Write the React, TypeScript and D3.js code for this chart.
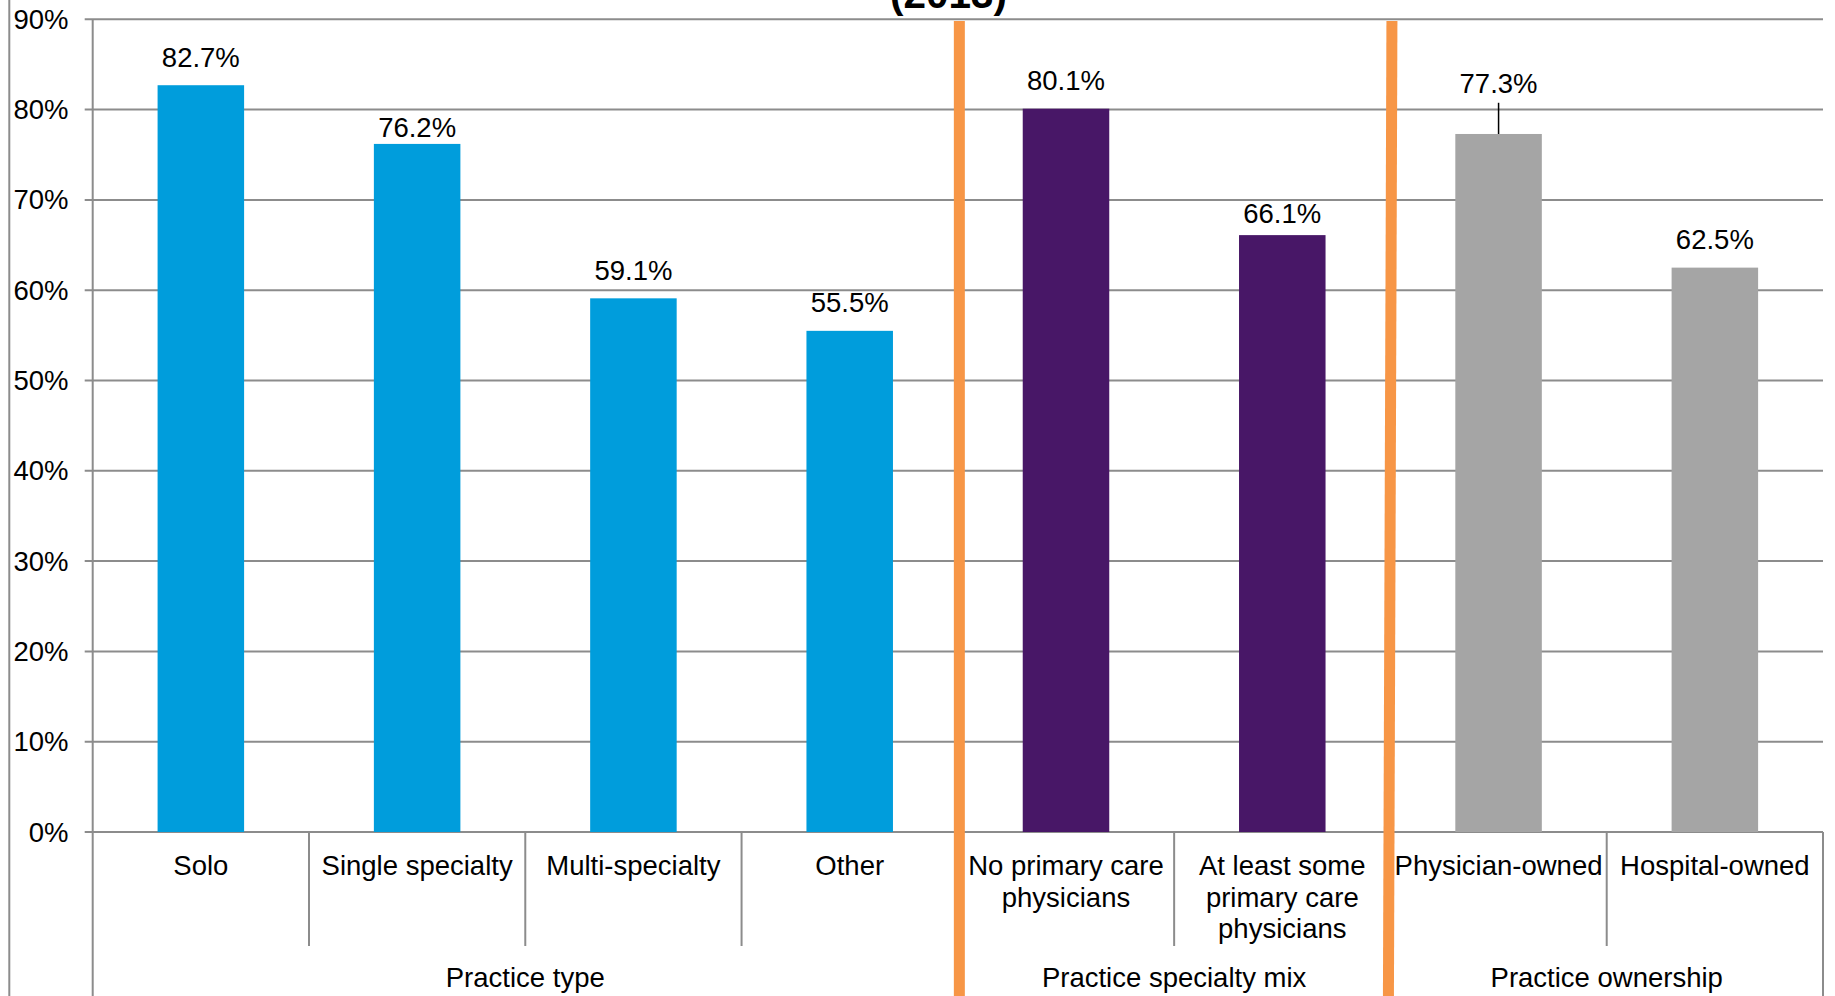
import React from "react";
import * as d3 from "d3";

// Share of practices (%) by practice characteristic
const categories: string[][] = [
  ["Solo"],
  ["Single specialty"],
  ["Multi-specialty"],
  ["Other"],
  ["No primary care", "physicians"],
  ["At least some", "primary care", "physicians"],
  ["Physician-owned"],
  ["Hospital-owned"],
];
const values: number[] = [82.7, 76.2, 59.1, 55.5, 80.1, 66.1, 77.3, 62.5];
const groupOf: number[] = [0, 0, 0, 0, 1, 1, 2, 2];
const groups: string[] = ["Practice type", "Practice specialty mix", "Practice ownership"];
const groupColors: string[] = ["#009DDC", "#481767", "#A5A5A5"];
const yTicks: number[] = [0, 10, 20, 30, 40, 50, 60, 70, 80, 90];
const titleText = "(2013)";

const W = 1835;
const H = 996;
const FONT = "'Liberation Sans', Arial, Helvetica, sans-serif";
const FS = 27.5;
const GRID = "#8C8C8C";
const ORANGE = "#F79646";

export default function App() {
  const left = 92.7;
  const right = 1823;
  const y0 = 832;
  const yTop = 19.3;

  const keys = categories.map((c) => c.join(" "));
  const x = d3.scaleBand<string>().domain(keys).range([left, right]).paddingInner(0.6).paddingOuter(0.3);
  const y = d3.scaleLinear().domain([0, 90]).range([y0, yTop]);
  const step = x.step();
  const boundary = (i: number) => left + i * step;

  // group spans in category indices
  const spans = groups.map((g, gi) => {
    const idx = groupOf.map((v, i) => (v === gi ? i : -1)).filter((i) => i >= 0);
    return { name: g, start: idx[0], end: idx[idx.length - 1] + 1 };
  });

  const fmt = (v: number) => `${v.toFixed(1)}%`;
  // distance from bar top to label baseline where it differs from the default
  const labelLift: Record<string, number> = {
    "Single specialty": 7,
    "At least some primary care physicians": 11.7,
    "Physician-owned": 40.6,
  };
  const leader: Record<string, boolean> = { "Physician-owned": true };

  const sepBottom = 946;
  const lineH = 31.6;

  return (
    <svg
      width={W}
      height={H}
      style={{ position: "absolute", left: 0, top: 0, background: "#fff" }}
      fontFamily={FONT}
    >
      <rect x={0} y={0} width={W} height={H} fill="#fff" />
      {/* outer left frame line */}
      <line x1={9.3} x2={9.3} y1={0} y2={H} stroke={GRID} strokeWidth={2} />

      {/* title, mostly above the visible area */}
      <text x={948.5} y={8} textAnchor="middle" fontSize={40.5} fontWeight="bold" fill="#000">
        {titleText}
      </text>

      {/* horizontal gridlines + ticks */}
      {yTicks.map((t) => (
        <g key={t}>
          <line x1={left - 8} x2={right} y1={y(t)} y2={y(t)} stroke={GRID} strokeWidth={2} />
          <text x={68.5} y={y(t) + 9.5} textAnchor="end" fontSize={FS} fill="#000">
            {`${t}%`}
          </text>
        </g>
      ))}

      {/* value axis line */}
      <line x1={left} x2={left} y1={yTop} y2={H} stroke={GRID} strokeWidth={2} />
      {/* right border of category axis */}
      <line x1={right} x2={right} y1={y0} y2={H} stroke={GRID} strokeWidth={2} />

      {/* category separators */}
      {keys.map((k, i) => {
        if (i === 0) return null;
        const isGroupEdge = groupOf[i] !== groupOf[i - 1];
        return (
          <line
            key={`sep-${k}`}
            x1={boundary(i)}
            x2={boundary(i)}
            y1={y0}
            y2={isGroupEdge ? H : sepBottom}
            stroke={GRID}
            strokeWidth={2}
          />
        );
      })}

      {/* bars */}
      {keys.map((k, i) => (
        <rect
          key={`bar-${k}`}
          x={x(k)}
          y={y(values[i])}
          width={x.bandwidth()}
          height={y0 - y(values[i])}
          fill={groupColors[groupOf[i]]}
        />
      ))}

      {/* value labels */}
      {keys.map((k, i) => {
        const cx = (x(k) as number) + x.bandwidth() / 2;
        const top = y(values[i]);
        const lift = labelLift[k] ?? 18.5;
        const base = top - lift;
        return (
          <g key={`lab-${k}`}>
            {leader[k] && (
              <line x1={cx} x2={cx} y1={base + 9.4} y2={top} stroke="#000" strokeWidth={1.5} />
            )}
            <text x={cx} y={base} textAnchor="middle" fontSize={FS} fill="#000">
              {fmt(values[i])}
            </text>
          </g>
        );
      })}

      {/* category labels */}
      {categories.map((lines, i) => {
        const cx = (x(keys[i]) as number) + x.bandwidth() / 2;
        return (
          <text key={`cat-${keys[i]}`} textAnchor="middle" fontSize={FS} fill="#000">
            {lines.map((ln, j) => (
              <tspan key={j} x={cx} y={875 + j * lineH}>
                {ln}
              </tspan>
            ))}
          </text>
        );
      })}

      {/* group labels */}
      {spans.map((s) => (
        <text
          key={s.name}
          x={(boundary(s.start) + boundary(s.end)) / 2}
          y={987}
          textAnchor="middle"
          fontSize={FS}
          fill="#000"
        >
          {s.name}
        </text>
      ))}

      {/* orange dividers between groups */}
      {spans.slice(1).map((s, i) => {
        const bx = boundary(s.start);
        const tilt = i === 0 ? 0 : -3.5;
        return (
          <line
            key={`div-${s.name}`}
            x1={bx + 1.5}
            x2={bx + 1.5 + tilt}
            y1={21}
            y2={H}
            stroke={ORANGE}
            strokeWidth={11}
          />
        );
      })}
    </svg>
  );
}
